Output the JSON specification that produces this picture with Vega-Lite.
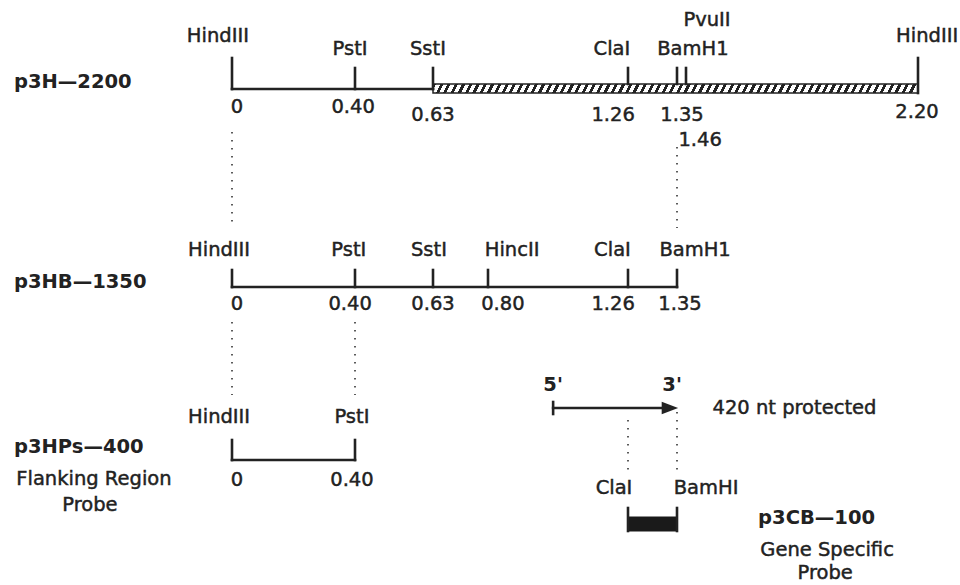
{
  "$schema": "https://vega.github.io/schema/vega-lite/v6.json",
  "width": 960,
  "height": 585,
  "padding": 0,
  "autosize": {"type": "none"},
  "background": "white",
  "config": {"view": {"stroke": null}},
  "datasets": {
    "bars": [
      {"part": "hatched", "kb": 0.63, "kb2": 2.2, "y": 84, "y2": 93},
      {"part": "solid", "kb": 1.26, "kb2": 1.35, "y": 517, "y2": 531}
    ],
    "rules": [
      {"kb": 0, "kb2": 0.63, "y": 89, "y2": 89},
      {"kb": 0, "kb2": 1.35, "y": 287, "y2": 287},
      {"kb": 0, "kb2": 0.4, "y": 460, "y2": 460},
      {"kb": 1.014, "kb2": 1.325, "y": 408, "y2": 408},
      {"kb": 0, "kb2": 0, "y": 58, "y2": 89},
      {"kb": 0.4, "kb2": 0.4, "y": 68, "y2": 89},
      {"kb": 0.63, "kb2": 0.63, "y": 68, "y2": 89},
      {"kb": 1.26, "kb2": 1.26, "y": 68, "y2": 84},
      {"kb": 1.35, "kb2": 1.35, "y": 68, "y2": 84},
      {"kb": 1.46, "kb2": 1.46, "y": 68, "y2": 84},
      {"kb": 2.2, "kb2": 2.2, "y": 58, "y2": 93},
      {"kb": 0, "kb2": 0, "y": 270, "y2": 287},
      {"kb": 0.4, "kb2": 0.4, "y": 270, "y2": 287},
      {"kb": 0.63, "kb2": 0.63, "y": 270, "y2": 287},
      {"kb": 0.8, "kb2": 0.8, "y": 270, "y2": 287},
      {"kb": 1.26, "kb2": 1.26, "y": 270, "y2": 287},
      {"kb": 1.35, "kb2": 1.35, "y": 270, "y2": 287},
      {"kb": 0, "kb2": 0, "y": 440, "y2": 460},
      {"kb": 0.4, "kb2": 0.4, "y": 440, "y2": 460},
      {"kb": 1.014, "kb2": 1.014, "y": 402, "y2": 414},
      {"kb": 1.26, "kb2": 1.26, "y": 508, "y2": 531},
      {"kb": 1.35, "kb2": 1.35, "y": 508, "y2": 531}
    ],
    "dots": [
      {"kb": 0, "kb2": 0, "y": 132, "y2": 228},
      {"kb": 1.35, "kb2": 1.35, "y": 147, "y2": 228},
      {"kb": 0, "kb2": 0, "y": 322, "y2": 395},
      {"kb": 0.4, "kb2": 0.4, "y": 322, "y2": 395},
      {"kb": 1.26, "kb2": 1.26, "y": 420, "y2": 473},
      {"kb": 1.35, "kb2": 1.35, "y": 412, "y2": 473}
    ],
    "arrow": [
      {"kb": 1.337, "y": 408}
    ],
    "texts": [
      {"k": "c", "t": "HindIII", "kb": -0.046, "y": 36},
      {"k": "c", "t": "PstI", "kb": 0.384, "y": 49},
      {"k": "c", "t": "SstI", "kb": 0.615, "y": 49},
      {"k": "c", "t": "ClaI", "kb": 1.207, "y": 49},
      {"k": "c", "t": "BamH1", "kb": 1.482, "y": 49},
      {"k": "c", "t": "PvuII", "kb": 1.527, "y": 20},
      {"k": "c", "t": "HindIII", "kb": 2.229, "y": 36},
      {"k": "c", "t": "0", "kb": 0.016, "y": 107},
      {"k": "c", "t": "0.40", "kb": 0.394, "y": 107},
      {"k": "c", "t": "0.63", "kb": 0.63, "y": 115},
      {"k": "c", "t": "1.26", "kb": 1.211, "y": 115},
      {"k": "c", "t": "1.35", "kb": 1.411, "y": 115},
      {"k": "c", "t": "2.20", "kb": 2.197, "y": 112},
      {"k": "c", "t": "1.46", "kb": 1.505, "y": 140},
      {"k": "c", "t": "HindIII", "kb": -0.042, "y": 250},
      {"k": "c", "t": "PstI", "kb": 0.38, "y": 250},
      {"k": "c", "t": "SstI", "kb": 0.618, "y": 250},
      {"k": "c", "t": "HincII", "kb": 0.879, "y": 250},
      {"k": "c", "t": "ClaI", "kb": 1.209, "y": 250},
      {"k": "c", "t": "BamH1", "kb": 1.489, "y": 250},
      {"k": "c", "t": "0", "kb": 0.016, "y": 304},
      {"k": "c", "t": "0.40", "kb": 0.384, "y": 304},
      {"k": "c", "t": "0.63", "kb": 0.63, "y": 304},
      {"k": "c", "t": "0.80", "kb": 0.849, "y": 304},
      {"k": "c", "t": "1.26", "kb": 1.211, "y": 304},
      {"k": "c", "t": "1.35", "kb": 1.387, "y": 304},
      {"k": "c", "t": "HindIII", "kb": -0.042, "y": 417},
      {"k": "c", "t": "PstI", "kb": 0.39, "y": 417},
      {"k": "c", "t": "0", "kb": 0.016, "y": 480},
      {"k": "c", "t": "0.40", "kb": 0.39, "y": 480},
      {"k": "c", "t": "Flanking Region", "kb": -0.449, "y": 479},
      {"k": "c", "t": "Probe", "kb": -0.462, "y": 505},
      {"k": "c", "t": "420 nt protected", "kb": 1.806, "y": 408},
      {"k": "c", "t": "ClaI", "kb": 1.214, "y": 488},
      {"k": "c", "t": "BamHI", "kb": 1.524, "y": 488},
      {"k": "c", "t": "Gene Specific", "kb": 1.91, "y": 550},
      {"k": "c", "t": "Probe", "kb": 1.904, "y": 573},
      {"k": "b", "t": "5'", "kb": 1.014, "y": 385},
      {"k": "b", "t": "3'", "kb": 1.341, "y": 385},
      {"k": "n", "t": "p3H—2200", "kb": -0.709, "y": 82},
      {"k": "n", "t": "p3HB—1350", "kb": -0.709, "y": 282},
      {"k": "n", "t": "p3HPs—400", "kb": -0.709, "y": 447},
      {"k": "n", "t": "p3CB—100", "kb": 1.69, "y": 518}
    ]
  },
  "encoding": {
    "x": {"field": "kb", "type": "quantitative", "axis": null,
          "scale": {"domain": [0, 0.4, 0.63, 0.8, 1.26, 1.35, 1.46, 2.2],
                    "range": [232, 355, 433, 488, 628, 677, 686, 918],
                    "nice": false, "zero": false}},
    "y": {"field": "y", "type": "quantitative", "axis": null,
          "scale": {"domain": [0, 585], "range": [0, 585], "nice": false, "zero": false}}
  },
  "layer": [
    {
      "data": {"name": "bars"},
      "transform": [{"filter": "datum.part === 'hatched'"}],
      "mark": {"type": "rect", "stroke": "#222", "strokeWidth": 1.5,
        "fill": {"gradient": "linear", "x1": 0, "y1": 0, "x2": 1, "y2": 0.00928,
          "stops": [
{"offset":0,"color":"#222"},{"offset":0.0065,"color":"#222"},{"offset":0.0065,"color":"#fff"},{"offset":0.015,"color":"#fff"},
{"offset":0.015,"color":"#222"},{"offset":0.0215,"color":"#222"},{"offset":0.0215,"color":"#fff"},{"offset":0.03,"color":"#fff"},
{"offset":0.03,"color":"#222"},{"offset":0.0365,"color":"#222"},{"offset":0.0365,"color":"#fff"},{"offset":0.045,"color":"#fff"},
{"offset":0.045,"color":"#222"},{"offset":0.0515,"color":"#222"},{"offset":0.0515,"color":"#fff"},{"offset":0.06,"color":"#fff"},
{"offset":0.06,"color":"#222"},{"offset":0.0665,"color":"#222"},{"offset":0.0665,"color":"#fff"},{"offset":0.075,"color":"#fff"},
{"offset":0.075,"color":"#222"},{"offset":0.0815,"color":"#222"},{"offset":0.0815,"color":"#fff"},{"offset":0.09,"color":"#fff"},
{"offset":0.09,"color":"#222"},{"offset":0.0965,"color":"#222"},{"offset":0.0965,"color":"#fff"},{"offset":0.105,"color":"#fff"},
{"offset":0.105,"color":"#222"},{"offset":0.1115,"color":"#222"},{"offset":0.1115,"color":"#fff"},{"offset":0.12,"color":"#fff"},
{"offset":0.12,"color":"#222"},{"offset":0.1265,"color":"#222"},{"offset":0.1265,"color":"#fff"},{"offset":0.135,"color":"#fff"},
{"offset":0.135,"color":"#222"},{"offset":0.1415,"color":"#222"},{"offset":0.1415,"color":"#fff"},{"offset":0.15,"color":"#fff"},
{"offset":0.15,"color":"#222"},{"offset":0.1565,"color":"#222"},{"offset":0.1565,"color":"#fff"},{"offset":0.165,"color":"#fff"},
{"offset":0.165,"color":"#222"},{"offset":0.1715,"color":"#222"},{"offset":0.1715,"color":"#fff"},{"offset":0.18,"color":"#fff"},
{"offset":0.18,"color":"#222"},{"offset":0.1865,"color":"#222"},{"offset":0.1865,"color":"#fff"},{"offset":0.195,"color":"#fff"},
{"offset":0.195,"color":"#222"},{"offset":0.2015,"color":"#222"},{"offset":0.2015,"color":"#fff"},{"offset":0.21,"color":"#fff"},
{"offset":0.21,"color":"#222"},{"offset":0.2165,"color":"#222"},{"offset":0.2165,"color":"#fff"},{"offset":0.225,"color":"#fff"},
{"offset":0.225,"color":"#222"},{"offset":0.2315,"color":"#222"},{"offset":0.2315,"color":"#fff"},{"offset":0.24,"color":"#fff"},
{"offset":0.24,"color":"#222"},{"offset":0.2465,"color":"#222"},{"offset":0.2465,"color":"#fff"},{"offset":0.255,"color":"#fff"},
{"offset":0.255,"color":"#222"},{"offset":0.2615,"color":"#222"},{"offset":0.2615,"color":"#fff"},{"offset":0.27,"color":"#fff"},
{"offset":0.27,"color":"#222"},{"offset":0.2765,"color":"#222"},{"offset":0.2765,"color":"#fff"},{"offset":0.285,"color":"#fff"},
{"offset":0.285,"color":"#222"},{"offset":0.2915,"color":"#222"},{"offset":0.2915,"color":"#fff"},{"offset":0.3,"color":"#fff"},
{"offset":0.3,"color":"#222"},{"offset":0.3065,"color":"#222"},{"offset":0.3065,"color":"#fff"},{"offset":0.315,"color":"#fff"},
{"offset":0.315,"color":"#222"},{"offset":0.3215,"color":"#222"},{"offset":0.3215,"color":"#fff"},{"offset":0.33,"color":"#fff"},
{"offset":0.33,"color":"#222"},{"offset":0.3365,"color":"#222"},{"offset":0.3365,"color":"#fff"},{"offset":0.345,"color":"#fff"},
{"offset":0.345,"color":"#222"},{"offset":0.3515,"color":"#222"},{"offset":0.3515,"color":"#fff"},{"offset":0.36,"color":"#fff"},
{"offset":0.36,"color":"#222"},{"offset":0.3665,"color":"#222"},{"offset":0.3665,"color":"#fff"},{"offset":0.375,"color":"#fff"},
{"offset":0.375,"color":"#222"},{"offset":0.3815,"color":"#222"},{"offset":0.3815,"color":"#fff"},{"offset":0.39,"color":"#fff"},
{"offset":0.39,"color":"#222"},{"offset":0.3965,"color":"#222"},{"offset":0.3965,"color":"#fff"},{"offset":0.405,"color":"#fff"},
{"offset":0.405,"color":"#222"},{"offset":0.4115,"color":"#222"},{"offset":0.4115,"color":"#fff"},{"offset":0.42,"color":"#fff"},
{"offset":0.42,"color":"#222"},{"offset":0.4265,"color":"#222"},{"offset":0.4265,"color":"#fff"},{"offset":0.435,"color":"#fff"},
{"offset":0.435,"color":"#222"},{"offset":0.4415,"color":"#222"},{"offset":0.4415,"color":"#fff"},{"offset":0.45,"color":"#fff"},
{"offset":0.45,"color":"#222"},{"offset":0.4565,"color":"#222"},{"offset":0.4565,"color":"#fff"},{"offset":0.465,"color":"#fff"},
{"offset":0.465,"color":"#222"},{"offset":0.4715,"color":"#222"},{"offset":0.4715,"color":"#fff"},{"offset":0.48,"color":"#fff"},
{"offset":0.48,"color":"#222"},{"offset":0.4865,"color":"#222"},{"offset":0.4865,"color":"#fff"},{"offset":0.495,"color":"#fff"},
{"offset":0.495,"color":"#222"},{"offset":0.5015,"color":"#222"},{"offset":0.5015,"color":"#fff"},{"offset":0.51,"color":"#fff"},
{"offset":0.51,"color":"#222"},{"offset":0.5165,"color":"#222"},{"offset":0.5165,"color":"#fff"},{"offset":0.525,"color":"#fff"},
{"offset":0.525,"color":"#222"},{"offset":0.5315,"color":"#222"},{"offset":0.5315,"color":"#fff"},{"offset":0.54,"color":"#fff"},
{"offset":0.54,"color":"#222"},{"offset":0.5465,"color":"#222"},{"offset":0.5465,"color":"#fff"},{"offset":0.555,"color":"#fff"},
{"offset":0.555,"color":"#222"},{"offset":0.5615,"color":"#222"},{"offset":0.5615,"color":"#fff"},{"offset":0.57,"color":"#fff"},
{"offset":0.57,"color":"#222"},{"offset":0.5765,"color":"#222"},{"offset":0.5765,"color":"#fff"},{"offset":0.585,"color":"#fff"},
{"offset":0.585,"color":"#222"},{"offset":0.5915,"color":"#222"},{"offset":0.5915,"color":"#fff"},{"offset":0.6,"color":"#fff"},
{"offset":0.6,"color":"#222"},{"offset":0.6065,"color":"#222"},{"offset":0.6065,"color":"#fff"},{"offset":0.615,"color":"#fff"},
{"offset":0.615,"color":"#222"},{"offset":0.6215,"color":"#222"},{"offset":0.6215,"color":"#fff"},{"offset":0.63,"color":"#fff"},
{"offset":0.63,"color":"#222"},{"offset":0.6365,"color":"#222"},{"offset":0.6365,"color":"#fff"},{"offset":0.645,"color":"#fff"},
{"offset":0.645,"color":"#222"},{"offset":0.6515,"color":"#222"},{"offset":0.6515,"color":"#fff"},{"offset":0.66,"color":"#fff"},
{"offset":0.66,"color":"#222"},{"offset":0.6665,"color":"#222"},{"offset":0.6665,"color":"#fff"},{"offset":0.675,"color":"#fff"},
{"offset":0.675,"color":"#222"},{"offset":0.6815,"color":"#222"},{"offset":0.6815,"color":"#fff"},{"offset":0.69,"color":"#fff"},
{"offset":0.69,"color":"#222"},{"offset":0.6965,"color":"#222"},{"offset":0.6965,"color":"#fff"},{"offset":0.705,"color":"#fff"},
{"offset":0.705,"color":"#222"},{"offset":0.7115,"color":"#222"},{"offset":0.7115,"color":"#fff"},{"offset":0.72,"color":"#fff"},
{"offset":0.72,"color":"#222"},{"offset":0.7265,"color":"#222"},{"offset":0.7265,"color":"#fff"},{"offset":0.735,"color":"#fff"},
{"offset":0.735,"color":"#222"},{"offset":0.7415,"color":"#222"},{"offset":0.7415,"color":"#fff"},{"offset":0.75,"color":"#fff"},
{"offset":0.75,"color":"#222"},{"offset":0.7565,"color":"#222"},{"offset":0.7565,"color":"#fff"},{"offset":0.765,"color":"#fff"},
{"offset":0.765,"color":"#222"},{"offset":0.7715,"color":"#222"},{"offset":0.7715,"color":"#fff"},{"offset":0.78,"color":"#fff"},
{"offset":0.78,"color":"#222"},{"offset":0.7865,"color":"#222"},{"offset":0.7865,"color":"#fff"},{"offset":0.795,"color":"#fff"},
{"offset":0.795,"color":"#222"},{"offset":0.8015,"color":"#222"},{"offset":0.8015,"color":"#fff"},{"offset":0.81,"color":"#fff"},
{"offset":0.81,"color":"#222"},{"offset":0.8165,"color":"#222"},{"offset":0.8165,"color":"#fff"},{"offset":0.825,"color":"#fff"},
{"offset":0.825,"color":"#222"},{"offset":0.8315,"color":"#222"},{"offset":0.8315,"color":"#fff"},{"offset":0.84,"color":"#fff"},
{"offset":0.84,"color":"#222"},{"offset":0.8465,"color":"#222"},{"offset":0.8465,"color":"#fff"},{"offset":0.855,"color":"#fff"},
{"offset":0.855,"color":"#222"},{"offset":0.8615,"color":"#222"},{"offset":0.8615,"color":"#fff"},{"offset":0.87,"color":"#fff"},
{"offset":0.87,"color":"#222"},{"offset":0.8765,"color":"#222"},{"offset":0.8765,"color":"#fff"},{"offset":0.885,"color":"#fff"},
{"offset":0.885,"color":"#222"},{"offset":0.8915,"color":"#222"},{"offset":0.8915,"color":"#fff"},{"offset":0.9,"color":"#fff"},
{"offset":0.9,"color":"#222"},{"offset":0.9065,"color":"#222"},{"offset":0.9065,"color":"#fff"},{"offset":0.915,"color":"#fff"},
{"offset":0.915,"color":"#222"},{"offset":0.9215,"color":"#222"},{"offset":0.9215,"color":"#fff"},{"offset":0.93,"color":"#fff"},
{"offset":0.93,"color":"#222"},{"offset":0.9365,"color":"#222"},{"offset":0.9365,"color":"#fff"},{"offset":0.945,"color":"#fff"},
{"offset":0.945,"color":"#222"},{"offset":0.9515,"color":"#222"},{"offset":0.9515,"color":"#fff"},{"offset":0.96,"color":"#fff"},
{"offset":0.96,"color":"#222"},{"offset":0.9665,"color":"#222"},{"offset":0.9665,"color":"#fff"},{"offset":0.975,"color":"#fff"},
{"offset":0.975,"color":"#222"},{"offset":0.9815,"color":"#222"},{"offset":0.9815,"color":"#fff"},{"offset":0.99,"color":"#fff"},
{"offset":0.99,"color":"#222"},{"offset":0.9965,"color":"#222"},{"offset":0.9965,"color":"#fff"},{"offset":1,"color":"#fff"}
          ]}},
      "encoding": {"x2": {"field": "kb2"}, "y2": {"field": "y2"}}
    },
    {
      "data": {"name": "bars"},
      "transform": [{"filter": "datum.part === 'solid'"}],
      "mark": {"type": "rect", "fill": "#1a1a1a", "stroke": "#1a1a1a", "strokeWidth": 1},
      "encoding": {"x2": {"field": "kb2"}, "y2": {"field": "y2"}}
    },
    {
      "data": {"name": "rules"},
      "mark": {"type": "rule", "color": "#222", "strokeWidth": 2.6, "strokeCap": "square"},
      "encoding": {"x2": {"field": "kb2"}, "y2": {"field": "y2"}}
    },
    {
      "data": {"name": "dots"},
      "mark": {"type": "rule", "color": "#333", "strokeWidth": 1.6, "strokeDash": [1.6, 6.4]},
      "encoding": {"x2": {"field": "kb2"}, "y2": {"field": "y2"}}
    },
    {
      "data": {"name": "arrow"},
      "mark": {"type": "point", "shape": "M-1,-0.75L1,0L-1,0.75Z", "size": 270, "filled": true, "color": "#222", "opacity": 1}
    },
    {
      "data": {"name": "texts"},
      "transform": [{"filter": "datum.k === 'c'"}],
      "mark": {"type": "text", "font": "DejaVu Sans", "fontSize": 19.5, "fill": "#222", "stroke": "#222", "strokeWidth": 0.45, "align": "center", "baseline": "middle"},
      "encoding": {"text": {"field": "t"}}
    },
    {
      "data": {"name": "texts"},
      "transform": [{"filter": "datum.k === 'b'"}],
      "mark": {"type": "text", "font": "DejaVu Sans", "fontSize": 19.5, "fontWeight": "bold", "color": "#222", "align": "center", "baseline": "middle"},
      "encoding": {"text": {"field": "t"}}
    },
    {
      "data": {"name": "texts"},
      "transform": [{"filter": "datum.k === 'n'"}],
      "mark": {"type": "text", "font": "DejaVu Sans", "fontSize": 19.5, "fontWeight": "bold", "color": "#222", "align": "left", "baseline": "middle"},
      "encoding": {"text": {"field": "t"}}
    }
  ]
}
